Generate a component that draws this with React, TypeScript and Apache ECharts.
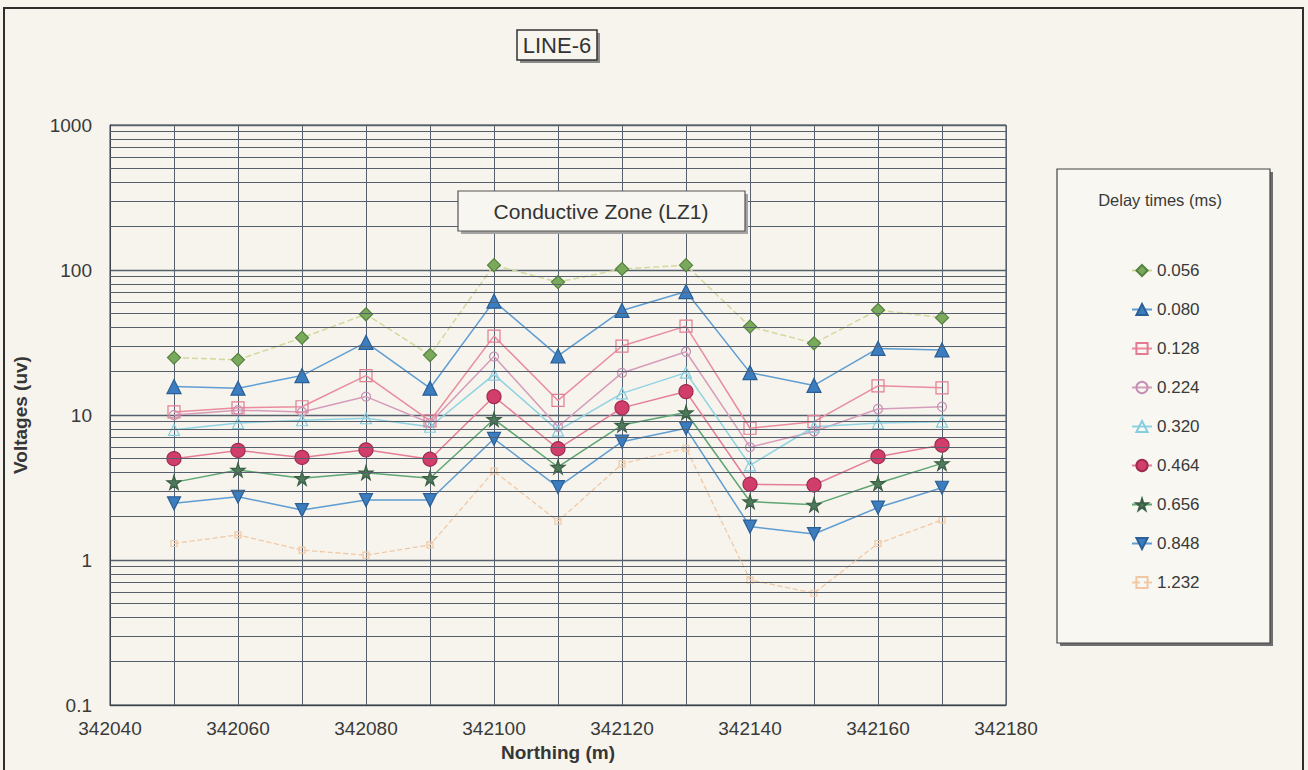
import React, { useEffect, useRef } from "react";
import * as echarts from "echarts";

// ---- data ----
const northing = [342050, 342060, 342070, 342080, 342090, 342100, 342110, 342120, 342130, 342140, 342150, 342160, 342170];
const xTicks = [342040, 342060, 342080, 342100, 342120, 342140, 342160, 342180];
const yTicks = [0.1, 1, 10, 100, 1000];

const v056 = [24.9, 24.0, 34.1, 49.5, 25.9, 108, 82.5, 101.6, 108, 40.7, 31.2, 53, 46.9];
const v080 = [15.7, 15.3, 18.7, 31.7, 15.3, 61, 25.6, 52.6, 71, 19.6, 16.0, 28.8, 28.1];
const v128 = [10.5, 11.2, 11.4, 18.7, 9.1, 35, 12.6, 29.9, 41, 8.1, 9.0, 15.9, 15.4];
const v224 = [10.0, 10.8, 10.5, 13.4, 8.8, 25.3, 8.3, 19.5, 27.3, 6.0, 7.7, 11.0, 11.4];
const v320 = [7.9, 8.8, 9.2, 9.5, 8.3, 19.0, 7.8, 14.1, 19.6, 4.5, 8.3, 8.8, 9.0];
const v464 = [5.0, 5.7, 5.1, 5.75, 4.95, 13.4, 5.85, 11.2, 14.5, 3.33, 3.29, 5.16, 6.2];
const v656 = [3.43, 4.18, 3.66, 4.0, 3.66, 9.34, 4.38, 8.53, 10.4, 2.53, 2.4, 3.38, 4.64];
const v848 = [2.46, 2.73, 2.21, 2.59, 2.59, 6.85, 3.18, 6.55, 8.09, 1.7, 1.51, 2.3, 3.15];
const v1232 = [1.3, 1.49, 1.17, 1.08, 1.27, 4.1, 1.85, 4.6, 5.9, 0.73, 0.59, 1.3, 1.89];

const seriesNames = ["0.056", "0.080", "0.128", "0.224", "0.320", "0.464", "0.656", "0.848", "1.232"];

// log minor grid positions (2..9 in each decade)
const decades = [0.1, 1, 10, 100];
const minorFactors = [2, 3, 4, 5, 6, 7, 8, 9];

const FONT = "'Liberation Sans', Arial, sans-serif";
const BG = "#f6f4ec";
const GRID = "#56606c";

const STAR = "path://M50,0 L61,35 L98,35 L68,57 L79,91 L50,70 L21,91 L32,57 L2,35 L39,35 Z";
const DOWN = "path://M0,0 L100,0 L50,88 Z";

function pairs(vals: number[]) {
  return northing.map((x, i) => [x, vals[i]]);
}

function mk(
  name: string,
  vals: number[],
  symbol: string,
  size: number,
  fill: string,
  border: string,
  lineColor: string,
  lineType: "solid" | "dashed" | "dotted" = "solid",
  lineWidth = 1.5
) {
  return {
    name,
    type: "line",
    data: pairs(vals),
    symbol,
    symbolSize: size,
    showSymbol: true,
    z: 3,
    lineStyle: { color: lineColor, width: lineWidth, type: lineType },
    itemStyle: { color: fill, borderColor: border, borderWidth: 1.2 },
    emphasis: { disabled: true },
  };
}

export default function App() {
  const ref = useRef<HTMLDivElement>(null);

  useEffect(() => {
    if (!ref.current) return;
    const chart = echarts.init(ref.current, undefined, { renderer: "svg" });

    const minorLines: any[] = [];
    decades.forEach((d) => minorFactors.forEach((f) => minorLines.push({ yAxis: Number((d * f).toPrecision(3)) })));

    const option: any = {
      animation: false,
      backgroundColor: BG,
      textStyle: { fontFamily: FONT },
      grid: { left: 110, right: 302, top: 125, bottom: 65, show: true, borderColor: "#3a424c", borderWidth: 1, backgroundColor: "transparent" },
      xAxis: {
        type: "value",
        min: 342040,
        max: 342180,
        interval: 10,
        name: "Northing (m)",
        nameLocation: "middle",
        nameGap: 36,
        nameTextStyle: { fontFamily: FONT, fontSize: 19, fontWeight: "bold", color: "#363636" },
        axisLine: { show: true, lineStyle: { color: "#3a424c", width: 1 } },
        axisTick: { show: false },
        axisLabel: {
          fontFamily: FONT,
          fontSize: 19,
          color: "#3a3a3a",
          margin: 14,
          formatter: (v: number) => (xTicks.indexOf(v) >= 0 ? String(v) : ""),
        },
        splitLine: { show: true, lineStyle: { color: GRID, width: 1 } },
      },
      yAxis: {
        type: "log",
        logBase: 10,
        min: yTicks[0],
        max: yTicks[yTicks.length - 1],
        name: "Voltages (uv)",
        nameLocation: "middle",
        nameGap: 80,
        nameTextStyle: { fontFamily: FONT, fontSize: 19, fontWeight: "bold", color: "#363636" },
        axisLine: { show: true, lineStyle: { color: "#3a424c", width: 1 } },
        axisTick: { show: false },
        axisLabel: {
          fontFamily: FONT,
          fontSize: 19,
          color: "#3a3a3a",
          margin: 18,
          formatter: (v: number) => String(Number(Number(v).toPrecision(3))),
        },
        splitLine: { show: true, lineStyle: { color: GRID, width: 1.3 } },
        minorTick: { show: false },
        minorSplitLine: { show: false },
      },
      legend: {
        data: seriesNames,
        orient: "vertical",
        left: 1126,
        top: 257,
        itemWidth: 20,
        itemHeight: 14,
        itemGap: 22,
        selectedMode: false,
        textStyle: { fontFamily: FONT, fontSize: 17, color: "#3a3a3a" },
        z: 120,
      },
      series: [
        {
          name: "minor-grid",
          type: "line",
          data: [],
          z: 1,
          silent: true,
          markLine: {
            silent: true,
            symbol: ["none", "none"],
            label: { show: false },
            lineStyle: { color: GRID, width: 1, type: "solid" },
            emphasis: { disabled: true },
            data: minorLines,
          },
        },
        mk("0.056", v056, "diamond", 13, "#79aa5c", "#55803f", "#d2d99c", "dashed", 1.5),
        mk("0.080", v080, "triangle", 14, "#3c7dc0", "#2b5f95", "#5f9dd2"),
        mk("0.128", v128, "rect", 12, "rgba(0,0,0,0)", "#e37c93", "#e98c9f"),
        mk("0.224", v224, "circle", 9, "rgba(0,0,0,0)", "#c690b4", "#d59cbb"),
        mk("0.320", v320, "triangle", 11, "rgba(0,0,0,0)", "#86cde0", "#8fd3e3"),
        mk("0.464", v464, "circle", 14, "#d23e6b", "#9e2a4f", "#e57d98"),
        mk("0.656", v656, STAR, 14, "#4d7a5a", "#3b5e45", "#5ea672"),
        mk("0.848", v848, DOWN, 13, "#3c7dc0", "#2b5f95", "#5f9dd2"),
        mk("1.232", v1232, "rect", 6, "rgba(0,0,0,0)", "#f0c7a4", "#f2c9a6", "dashed", 1.3),
      ],
      graphic: [
        // outer frame
        { type: "rect", z: 200, silent: true, shape: { x: 4, y: 8, width: 1299, height: 790 }, style: { fill: "none", stroke: "#2e2e2e", lineWidth: 2 } },
        // LINE-6 box
        { type: "rect", z: 200, shape: { x: 520, y: 33, width: 80, height: 30 }, style: { fill: "#8a8a8a" } },
        { type: "rect", z: 201, shape: { x: 517, y: 30, width: 80, height: 30 }, style: { fill: "#f7f5ee", stroke: "#333", lineWidth: 1.5 } },
        { type: "text", z: 202, x: 557, y: 45, style: { text: "LINE-6", fontFamily: FONT, fontSize: 22, fill: "#333", align: "center", verticalAlign: "middle" } },
        // Conductive Zone box
        { type: "rect", z: 200, shape: { x: 461, y: 194, width: 287, height: 40 }, style: { fill: "#a3a3a3" } },
        { type: "rect", z: 201, shape: { x: 458, y: 191, width: 287, height: 40 }, style: { fill: "#f8f6f0", stroke: "#555", lineWidth: 1.2 } },
        { type: "text", z: 202, x: 601, y: 211, style: { text: "Conductive Zone (LZ1)", fontFamily: FONT, fontSize: 21, fill: "#333", align: "center", verticalAlign: "middle" } },
        // legend box
        { type: "rect", z: 100, shape: { x: 1060, y: 172, width: 213, height: 474 }, style: { fill: "#6e6e6e" } },
        { type: "rect", z: 101, shape: { x: 1057, y: 169, width: 213, height: 474 }, style: { fill: "#f8f7f2", stroke: "#444", lineWidth: 1.2 } },
        { type: "text", z: 102, x: 1160, y: 200, style: { text: "Delay times (ms)", fontFamily: FONT, fontSize: 16.5, fill: "#3a3a3a", align: "center", verticalAlign: "middle" } },
      ],
    };

    chart.setOption(option);
    return () => chart.dispose();
  }, []);

  return (
    <div
      ref={ref}
      style={{ position: "fixed", left: 0, top: 0, width: 1308, height: 770 }}
    />
  );
}
